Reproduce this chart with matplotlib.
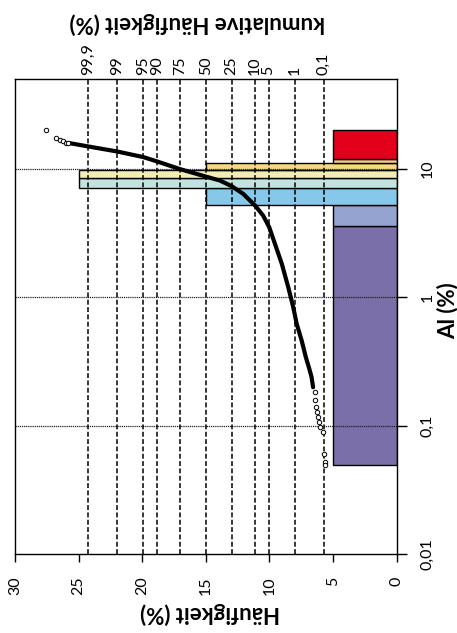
import math
import numpy as np
import matplotlib
matplotlib.use("Agg")
import matplotlib.pyplot as plt
from matplotlib.ticker import FixedLocator, NullLocator

plt.rcParams['font.family'] = ['Lato', 'DejaVu Sans']

# ---------------- data ----------------
# histogram classes (percentile classes) of Al (%)
class_lower = [0.05, 3.63, 5.22, 7.06, 8.45, 9.80, 11.1, 12.0]
class_upper = [3.63, 5.22, 7.06, 8.45, 9.80, 11.1, 12.0, 20.3]
class_freq = [5, 5, 15, 25, 25, 15, 5, 5]
class_colors = ['#7b6faa', '#95a3d0', '#87c7ea', '#c3e3de',
                '#f2edb5', '#f6d97c', '#f9c98a', '#e2001a']

# cumulative distribution (probit score of cumulative frequency vs Al %)
tail_high_z = [4.19, 3.93, 3.81, 3.74, 3.67, 3.61]
tail_high_al = [20.3, 17.6, 16.97, 16.4, 16.1, 16.0]
core_z = [3.56, 3.08, 2.32, 1.64, 1.29, 0.68, 0.0, -0.37, -0.68, -0.98,
          -1.29, -1.50, -1.66, -1.81, -1.99, -2.16, -2.29, -2.38, -2.51,
          -2.62, -2.71, -2.77, -2.81]
core_al = [15.9, 15.0, 13.7, 12.4, 11.5, 10.0, 8.74, 8.14, 7.35, 6.41,
           5.20, 4.35, 3.53, 2.62, 1.83, 1.20, 0.84, 0.624, 0.463,
           0.343, 0.279, 0.240, 0.200]
tail_low_z = [-2.86, -2.87, -2.89, -2.92, -2.95, -2.96, -2.99, -3.06,
              -3.09, -3.11, -3.13]
tail_low_al = [0.183, 0.158, 0.140, 0.128, 0.117, 0.107, 0.098, 0.0895,
               0.0608, 0.0523, 0.0493]

# probability axis
prob_ticks = [0.1, 1, 5, 10, 25, 50, 75, 90, 95, 99, 99.9]
prob_labels = ['0,1', '1', '5', '10', '25', '50', '75', '90', '95', '99', '99,9']

freq_ticks = [0, 5, 10, 15, 20, 25, 30]
al_ticks = [0.01, 0.1, 1, 10]
al_labels = ['0,01', '0,1', '1', '10']


def probit(p):
    lo, hi = -10.0, 10.0
    for _ in range(100):
        mid = 0.5 * (lo + hi)
        if 0.5 * (1 + math.erf(mid / math.sqrt(2))) < p / 100.0:
            lo = mid
        else:
            hi = mid
    return 0.5 * (lo + hi)


def z_to_freq(z):
    return 15 + 3 * np.asarray(z, dtype=float)


def freq_to_z(h):
    return (np.asarray(h, dtype=float) - 15) / 3


# ---------------- figure ----------------
fig = plt.figure(figsize=(4.57, 6.33), dpi=100)
ax = fig.add_axes([0.0328, 0.1243, 0.868 - 0.0328, 0.8747 - 0.1243])
ax.set_xlim(30, 0)
ax.set_yscale('log')
ax.set_ylim(0.01, 50)

heights = np.subtract(class_upper, class_lower)
ax.barh(class_lower, class_freq, height=heights, left=0, align='edge',
        color=class_colors, edgecolor='black', linewidth=1.0, zorder=1)

# horizontal grid (Al decades)
for v in al_ticks[1:]:
    ax.axhline(v, color='#222222', lw=0.9, ls=(0, (1, 0.7)), zorder=2.5)

# probability grid
z_ticks = [probit(p) for p in prob_ticks]
for z in z_ticks:
    ax.axvline(z_to_freq(z), color='black', lw=1.1, ls=(0, (3.2, 1.6)), zorder=3)

# cumulative curve
ax.plot(z_to_freq(core_z), core_al, color='black', lw=3.0,
        solid_capstyle='round', solid_joinstyle='round', zorder=4)
for zs, als in [(tail_high_z, tail_high_al), (tail_low_z, tail_low_al)]:
    ax.plot(z_to_freq(zs), als, ls='none', marker='o', ms=3.2, mfc='white',
            mec='black', mew=0.7, zorder=5)

# axes styling
for s in ax.spines.values():
    s.set_linewidth(1.0)
    s.set_color('black')
    s.set_zorder(6)

ax.xaxis.set_major_locator(FixedLocator(freq_ticks))
ax.set_xticklabels([str(t) for t in freq_ticks], rotation=90, va='top')
ax.tick_params(axis='x', direction='out', length=6, width=1, pad=10,
               labelsize=11.5, bottom=True, top=False)

ax.yaxis.tick_right()
ax.yaxis.set_major_locator(FixedLocator(al_ticks))
ax.yaxis.set_minor_locator(NullLocator())
ax.set_yticklabels(al_labels, rotation=90, va='center', ha='left')
ax.tick_params(axis='y', direction='out', length=7, width=1, pad=10,
               labelsize=11.5, right=True, left=False)

sec = ax.secondary_xaxis('top', functions=(freq_to_z, z_to_freq))
sec.set_xticks(z_ticks)
sec.set_xticklabels(prob_labels, rotation=90, va='bottom', ha='center')
sec.tick_params(length=0, pad=3, labelsize=11.5)
sec.spines['top'].set_visible(False)

fig.text(0.431, 0.9637, 'kumulative Häufigkeit (%)', rotation=180,
         ha='center', va='center', fontsize=16, fontweight='bold')
fig.text(0.4595, 0.0316, 'Häufigkeit (%)', rotation=180,
         ha='center', va='center', fontsize=16, fontweight='bold')
fig.text(0.979, 0.51, 'Al (%)', rotation=90,
         ha='center', va='center', fontsize=16, fontweight='bold')

fig.savefig('out.png', dpi=100)
